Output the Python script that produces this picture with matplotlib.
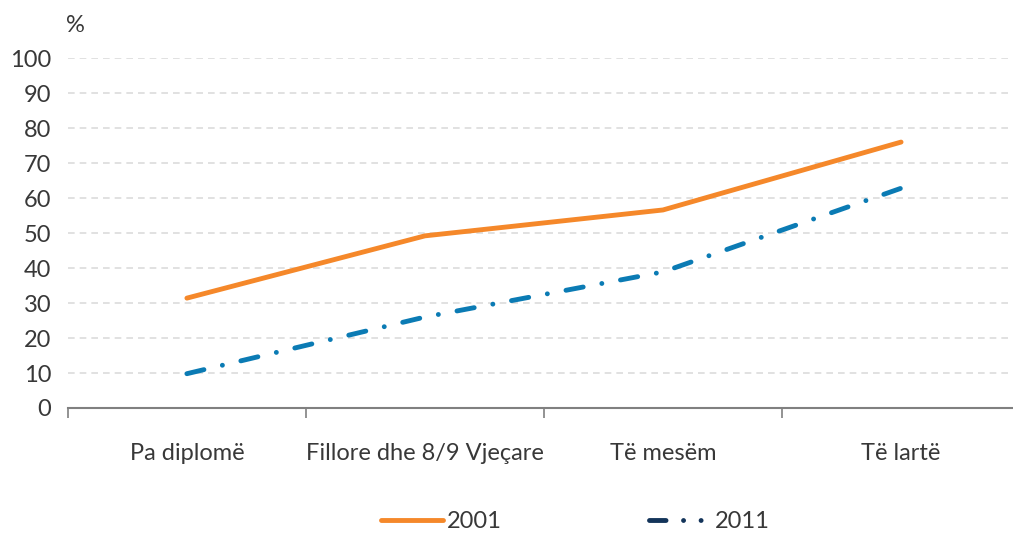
import matplotlib.pyplot as plt
from matplotlib.lines import Line2D

categories = ["Pa diplomë", "Fillore dhe 8/9 Vjeçare", "Të mesëm", "Të lartë"]
y2001 = [31.4, 49.2, 56.6, 76.0]
y2011 = [9.8, 26.0, 38.9, 62.8]
yticks = list(range(0, 101, 10))

plt.rcParams['font.family'] = ['Lato', 'DejaVu Sans']
text_col = '#383838'
orange = '#f5882a'
blue = '#0b7bb4'
navy = '#13345a'
fs = 17

fig = plt.figure(figsize=(10.13, 5.35), dpi=100)
ax = fig.add_axes([0.067, 0.2374, 0.94, 0.654])

x = list(range(len(categories)))
ax.plot(x, y2001, color=orange, lw=3.5, solid_capstyle='round', solid_joinstyle='round')
ax.plot(x, y2011, color=blue, lw=3.5, dash_capstyle='round',
        dashes=(3.6, 3.9, 0.01, 3.9))

ax.set_xlim(-0.5, 3.5)
ax.set_ylim(0, 100)
ax.set_yticks(yticks)
ax.set_yticklabels([str(v) for v in yticks], fontsize=fs, color=text_col)
ax.set_xticks([i - 0.5 for i in range(len(categories) + 1)])
ax.set_xticklabels([])
ax.set_xticks(x, minor=True)
ax.set_xticklabels(categories, minor=True, fontsize=fs, color=text_col)
ax.tick_params(axis='x', which='major', length=7, width=1.2, color='#808080', direction='out')
ax.tick_params(axis='x', which='minor', length=0, pad=25)
ax.tick_params(axis='y', length=0, pad=12)
for v in yticks[1:]:
    ax.axhline(v, color='#dcdcdc', lw=1.2, ls=(0, (4, 3)), zorder=0)
for s in ['top', 'right', 'left']:
    ax.spines[s].set_visible(False)
ax.spines['bottom'].set_color('#808080')
ax.spines['bottom'].set_linewidth(1.5)

fig.text(0.074, 0.952, '%', fontsize=fs, color=text_col, ha='center', va='center')

handles = [Line2D([], [], color=orange, lw=3.5, solid_capstyle='round'),
           Line2D([], [], color=navy, lw=3.5, dash_capstyle='round',
                  dashes=(3.4, 3.6, 0.01, 3.6, 0.01, 3.6))]
leg = fig.legend(handles, ['2001', '2011'], loc='center', bbox_to_anchor=(0.568, 0.025),
                 ncol=2, frameon=False, fontsize=fs, handlelength=2.6, handletextpad=0.2,
                 columnspacing=6.2)
for t in leg.get_texts():
    t.set_color(text_col)

fig.savefig('out.png', dpi=100)
